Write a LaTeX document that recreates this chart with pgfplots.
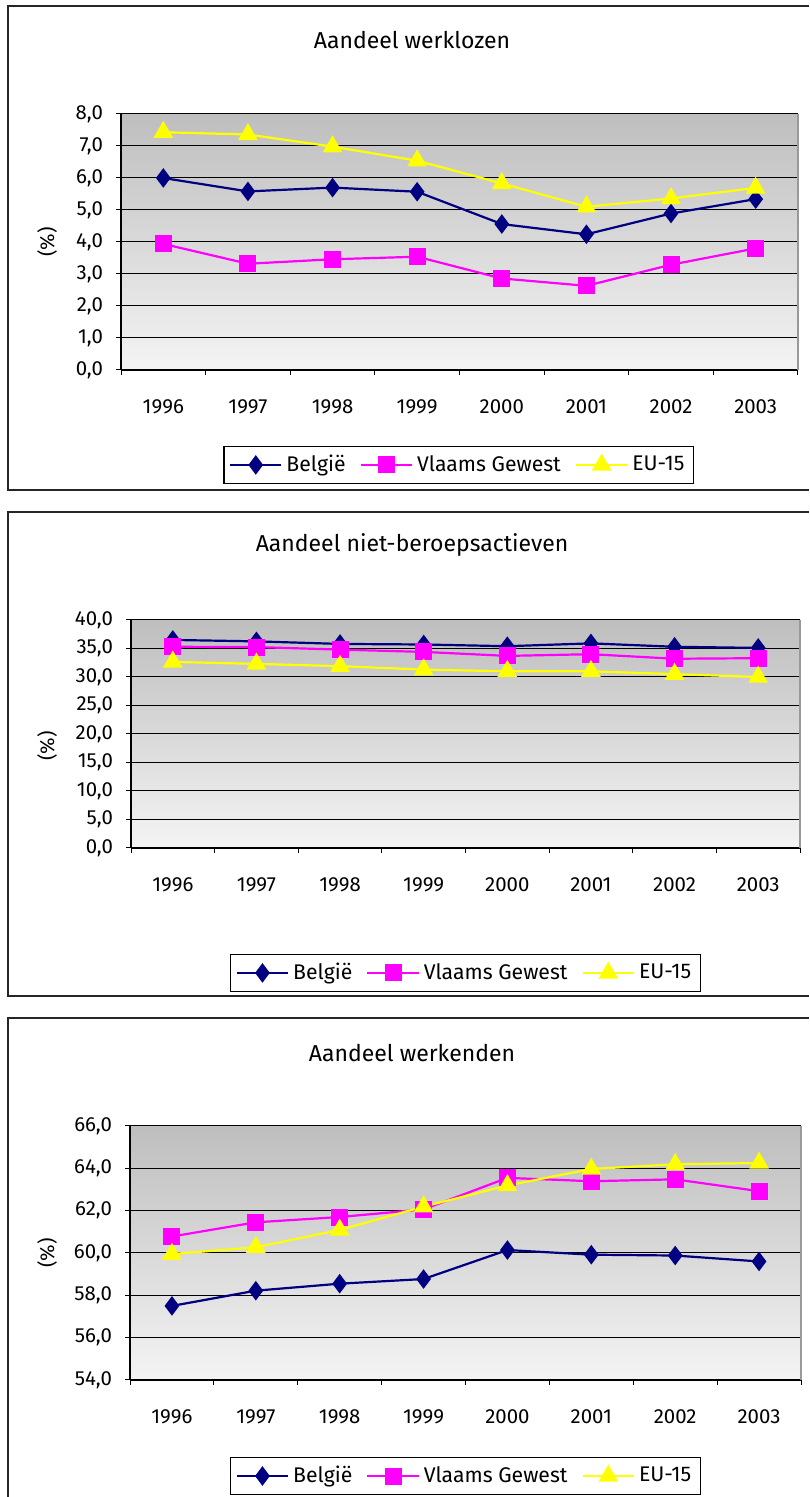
\documentclass[border=0pt]{standalone}
\usepackage{pgfplots}
\pgfplotsset{compat=1.18}
\usepackage{fontspec}
\setmainfont{Fira Sans}
\definecolor{bel}{RGB}{0,0,128}
\definecolor{vla}{RGB}{255,0,255}
\definecolor{eu}{RGB}{255,255,0}
\definecolor{bgtop}{RGB}{190,190,190}
\definecolor{bgbot}{RGB}{244,244,244}
\pgfplotsset{
  panel/.style={
    scale only axis,
    xmin=-0.5, xmax=7.5,
    xtick={0,...,7},
    xticklabels={1996,1997,1998,1999,2000,2001,2002,2003},
    minor xtick={-0.5,0.5,...,7.5},
    major x tick style={draw=none},
    minor x tick style={black, line width=0.5pt},
    tick align=outside,
    major tick length=2.5pt,
    minor tick length=2.5pt,
    axis x line*=bottom,
    axis y line*=left,
    axis line style={black, line width=0.6pt, -},
    ymajorgrids,
    grid style={black, line width=0.5pt},
    y tick style={black, line width=0.5pt},
    axis background/.style={top color=bgtop, bottom color=bgbot},
    tick label style={font=\fontsize{10.2}{12}\selectfont},
    xticklabel style={yshift=-9pt},
    yticklabel style={xshift=-3pt},
    /pgf/number format/.cd, fixed, fixed zerofill, precision=1, use comma, assume math mode=true,
    /pgfplots/.cd,
    legend columns=3,
    legend style={draw=black, line width=0.6pt, fill=white, anchor=center,
      font=\fontsize{10.6}{12.5}\selectfont, inner sep=2.5pt,
      /tikz/every even column/.append style={column sep=5pt}},
    legend cell align=left,
    legend image code/.code={%
      \draw[mark repeat=2,mark phase=2] plot coordinates {(0cm,0cm)(0.45cm,0cm)(0.9cm,0cm)};},
    clip=false,
  },
  sbel/.style={color=bel, line width=1.1pt, mark=diamond*, mark size=4pt, mark options={solid, fill=bel}},
  svla/.style={color=vla, line width=1.1pt, mark=square*, mark size=3.7pt, mark options={solid, fill=vla}},
  seu/.style={color=eu, line width=1.1pt, mark=triangle*, mark size=4.6pt, mark options={solid, fill=eu}},
}
\begin{document}
\begin{tikzpicture}
\useasboundingbox (0,0) rectangle (404.5pt,748.5pt);
\fill[white] (0,0) rectangle (404.5pt,748.5pt);
% panel frames
\draw[black!85, line width=1pt] (404.5pt,745.5pt) -- (4pt,745.5pt) -- (4pt,503.5pt) -- (404.5pt,503.5pt);
\draw[black!85, line width=1pt] (404.5pt,492.5pt) -- (4pt,492.5pt) -- (4pt,250.5pt) -- (404.5pt,250.5pt);
\draw[black!85, line width=1pt] (404.5pt,239.5pt) -- (4pt,239.5pt) -- (4pt,0pt);
% titles
\node[font=\fontsize{11.5}{14}\selectfont] at (206pt,728.5pt) {Aandeel werklozen};
\node[font=\fontsize{11.5}{14}\selectfont] at (206pt,476pt) {Aandeel niet-beroepsactieven};
\node[font=\fontsize{11.5}{14}\selectfont] at (206pt,222pt) {Aandeel werkenden};
% y labels
\node[rotate=90, font=\fontsize{10}{12}\selectfont] at (23.5pt,627.5pt) {(\%)};
\node[rotate=90, font=\fontsize{10}{12}\selectfont] at (23.5pt,375.5pt) {(\%)};
\node[rotate=90, font=\fontsize{10}{12}\selectfont] at (23.5pt,122pt) {(\%)};

% Panel 1
\begin{axis}[panel, at={(60.5pt,563.5pt)}, anchor=south west,
  width=338.5pt, height=128pt, ymin=0, ymax=8, ytick={0,1,...,8},
  legend style={at={(0.499,-0.371)}}]
\addplot[sbel] coordinates {(0,6.00) (1,5.58) (2,5.70) (3,5.57) (4,4.56) (5,4.24) (6,4.89) (7,5.34)};
\addplot[svla] coordinates {(0,3.94) (1,3.32) (2,3.46) (3,3.54) (4,2.86) (5,2.63) (6,3.29) (7,3.80)};
\addplot[seu] coordinates {(0,7.43) (1,7.36) (2,6.98) (3,6.54) (4,5.83) (5,5.10) (6,5.36) (7,5.69)};
\legend{België, Vlaams Gewest, EU-15}
\draw[black!40, line width=0.6pt] (rel axis cs:1,0) -- (rel axis cs:1,1);
\end{axis}

% Panel 2
\begin{axis}[panel, at={(65.5pt,324.5pt)}, anchor=south west,
  width=334.5pt, height=114pt, ymin=0, ymax=40, ytick={0,5,...,40},
  legend style={at={(0.5,-0.548)}}]
\addplot[sbel] coordinates {(0,36.5) (1,36.25) (2,35.8) (3,35.7) (4,35.4) (5,35.9) (6,35.3) (7,35.1)};
\addplot[svla] coordinates {(0,35.3) (1,35.25) (2,34.8) (3,34.4) (4,33.7) (5,34.0) (6,33.2) (7,33.3)};
\addplot[seu] coordinates {(0,32.65) (1,32.3) (2,31.9) (3,31.3) (4,31.0) (5,31.0) (6,30.5) (7,30.0)};
\legend{België, Vlaams Gewest, EU-15}
\draw[black!40, line width=0.6pt] (rel axis cs:1,0) -- (rel axis cs:1,1);
\end{axis}

% Panel 3
\begin{axis}[panel, at={(65pt,58.5pt)}, anchor=south west,
  width=335.5pt, height=127pt, ymin=54, ymax=66, ytick={54,56,...,66},
  legend style={at={(0.5,-0.378)}}]
\addplot[sbel] coordinates {(0,57.5) (1,58.22) (2,58.55) (3,58.77) (4,60.14) (5,59.92) (6,59.88) (7,59.6)};
\addplot[svla] coordinates {(0,60.78) (1,61.45) (2,61.7) (3,62.06) (4,63.55) (5,63.39) (6,63.48) (7,62.92)};
\addplot[seu] coordinates {(0,59.95) (1,60.27) (2,61.09) (3,62.19) (4,63.19) (5,63.97) (6,64.19) (7,64.25)};
\legend{België, Vlaams Gewest, EU-15}
\draw[black!40, line width=0.6pt] (rel axis cs:1,0) -- (rel axis cs:1,1);
\end{axis}
\end{tikzpicture}
\end{document}
